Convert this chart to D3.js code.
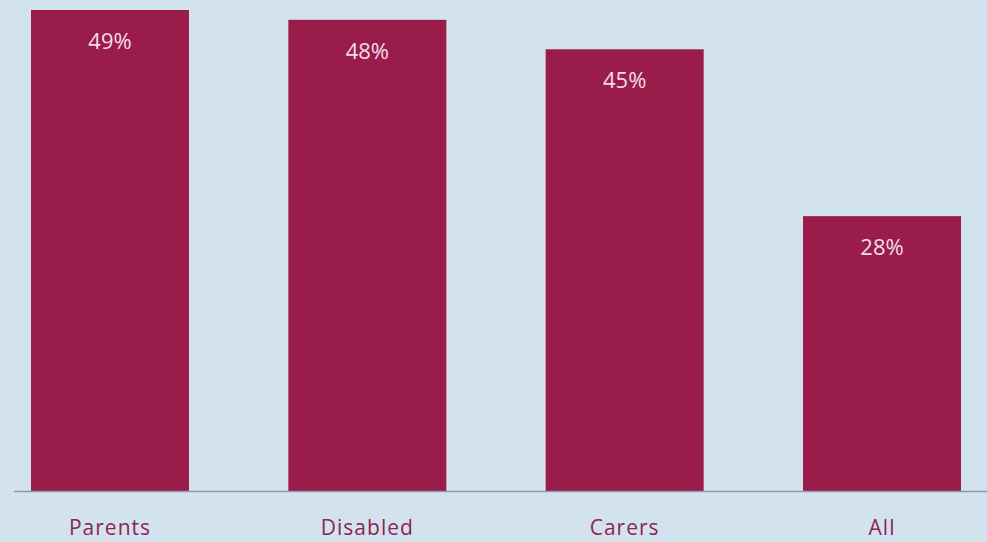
<!DOCTYPE html>
<html>
<head>
<meta charset="utf-8">
<script src="https://cdn.jsdelivr.net/npm/d3@7"></script>
<style>
  html, body { margin: 0; padding: 0; background: #d3e3ee; }
  svg { display: block; }
</style>
</head>
<body>
<div id="chart"></div>
<script>
const categories = ["Parents", "Disabled", "Carers", "All"];
const values = [49, 48, 45, 28];

function drawChart() {
  const width = 987;
  const height = 542;
  const baseY = 491;

  const svg = d3.select("#chart")
    .append("svg")
    .attr("width", width)
    .attr("height", height);

  svg.append("rect")
    .attr("width", width)
    .attr("height", height)
    .attr("fill", "#d3e3ee");

  const x = d3.scaleBand()
    .domain(categories)
    .range([14, 978])
    .paddingInner(0.386)
    .paddingOuter(0.066);

  // 49% reaches y=10
  const y = d3.scaleLinear()
    .domain([0, 49])
    .range([baseY, 10]);

  const data = categories.map((c, i) => ({cat: c, value: values[i]}));

  svg.append("g")
    .selectAll("rect")
    .data(data)
    .join("rect")
    .attr("x", d => x(d.cat))
    .attr("y", d => y(d.value))
    .attr("width", x.bandwidth())
    .attr("height", d => baseY - y(d.value))
    .attr("fill", "#9a1c4a");

  svg.append("g")
    .selectAll("text")
    .data(data)
    .join("text")
    .attr("x", d => x(d.cat) + x.bandwidth() / 2)
    .attr("y", d => y(d.value) + 39)
    .attr("text-anchor", "middle")
    .attr("font-family", "'Open Sans', sans-serif")
    .attr("font-size", 22)
    .attr("fill", "#f3dde6")
    .text(d => d.value + "%");

  svg.append("line")
    .attr("x1", 14)
    .attr("x2", width)
    .attr("y1", baseY + 0.5)
    .attr("y2", baseY + 0.5)
    .attr("stroke", "#8c9aa3")
    .attr("stroke-width", 1.5);

  svg.append("g")
    .selectAll("text")
    .data(categories)
    .join("text")
    .attr("x", d => x(d) + x.bandwidth() / 2)
    .attr("y", 535)
    .attr("text-anchor", "middle")
    .attr("font-family", "'Open Sans', sans-serif")
    .attr("font-size", 21)
    .attr("letter-spacing", 1)
    .attr("fill", "#8e2354")
    .text(d => d);
}

drawChart();
</script>
</body>
</html>
